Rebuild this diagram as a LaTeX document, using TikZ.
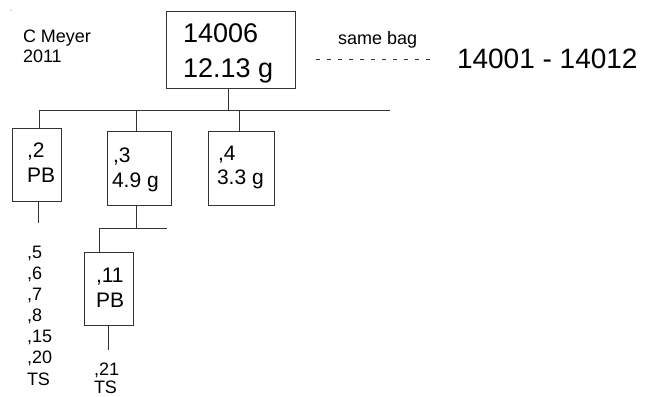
\documentclass[tikz,border=0pt]{standalone}
\usepackage{fontspec}
\setmainfont{Liberation Sans}
\tikzset{
  every node/.style={inner sep=0pt, outer sep=0pt},
  box/.style={draw=black!80, line width=1pt, rectangle},
  conn/.style={draw=black!80, line width=1pt},
  big/.style={font=\fontsize{27}{34}\selectfont, anchor=base west},
  rng/.style={font=\fontsize{28}{34}\selectfont, anchor=base west},
  mid/.style={font=\fontsize{21}{25}\selectfont, anchor=base west},
  lst/.style={font=\fontsize{18}{21}\selectfont, anchor=base west},
  sml/.style={font=\fontsize{18}{20}\selectfont, anchor=base west},
}
\begin{document}
\begin{tikzpicture}[x=1pt, y=-1pt]
\useasboundingbox (0,0) rectangle (652,396);
% tiny dot
\fill[black!50] (11,10) circle (0.7);
% author
\node[sml] (auth1) at (23,43) {C Meyer};
\node[sml] (auth2) at (23,63) {2011};
% top box
\node[box, minimum width=129pt, minimum height=76pt] (top) at (230.5,50) {};
\node[big] (t1) at (183,43) {14006};
\node[big] (t2) at (183,77) {12.13 g};
% same bag
\node[sml] (same) at (338,45) {same bag};
\coordinate (dsL) at (316,59);
\coordinate (dsR) at (433,59);
\draw[conn, line width=0.8pt, dash pattern=on 4pt off 7pt] (dsL) -- (dsR);
\node[rng] (range) at (457,68) {14001 - 14012};
% bus
\coordinate (j1) at (228,110);
\coordinate (busL) at (39,110);
\coordinate (busR) at (390,110);
\coordinate (d3) at (136,110);
\coordinate (d4) at (239,110);
\draw[conn] (top.south -| j1) -- (j1);
\draw[conn] (busL) -- (busR);
% child boxes
\node[box, minimum width=49pt, minimum height=73pt] (b2) at (36.5,164.5) {};
\node[mid] (b2a) at (27,157) {,2};
\node[mid] (b2b) at (27,182) {PB};
\node[box, minimum width=64pt, minimum height=74pt] (b3) at (139,168) {};
\node[mid] (b3a) at (113,162) {,3};
\node[mid] (b3b) at (112,187) {4.9 g};
\node[box, minimum width=66pt, minimum height=74pt] (b4) at (241,168) {};
\node[mid] (b4a) at (218,160) {,4};
\node[mid] (b4b) at (217,184) {3.3 g};
\draw[conn] (busL) -- (b2.north -| busL);
\draw[conn] (d3) -- (b3.north -| d3);
\draw[conn] (d4) -- (b4.north -| d4);
% below ,2
\coordinate (d2b) at (38,223);
\draw[conn] (b2.south -| d2b) -- (d2b);
\node[lst] (l5) at (27,258) {,5};
\node[lst] (l6) at (27,279) {,6};
\node[lst] (l7) at (27,300) {,7};
\node[lst] (l8) at (27,321) {,8};
\node[lst] (l15) at (27,342) {,15};
\node[lst] (l20) at (27,363) {,20};
\node[lst] (lts) at (27,385) {TS};
% below ,3
\coordinate (j3) at (136,228);
\coordinate (bus2L) at (99,228);
\coordinate (bus2R) at (167,228);
\draw[conn] (b3.south -| j3) -- (j3);
\draw[conn] (bus2L) -- (bus2R);
\node[box, minimum width=49pt, minimum height=73pt] (b11) at (108.5,288.5) {};
\node[mid] (b11a) at (96,282) {,11};
\node[mid] (b11b) at (96,307) {PB};
\draw[conn] (bus2L) -- (b11.north -| bus2L);
\coordinate (d11) at (108,350);
\draw[conn] (b11.south -| d11) -- (d11);
\node[lst] (l21) at (94,375) {,21};
\node[lst] (l21ts) at (94,393) {TS};
\end{tikzpicture}
\end{document}
